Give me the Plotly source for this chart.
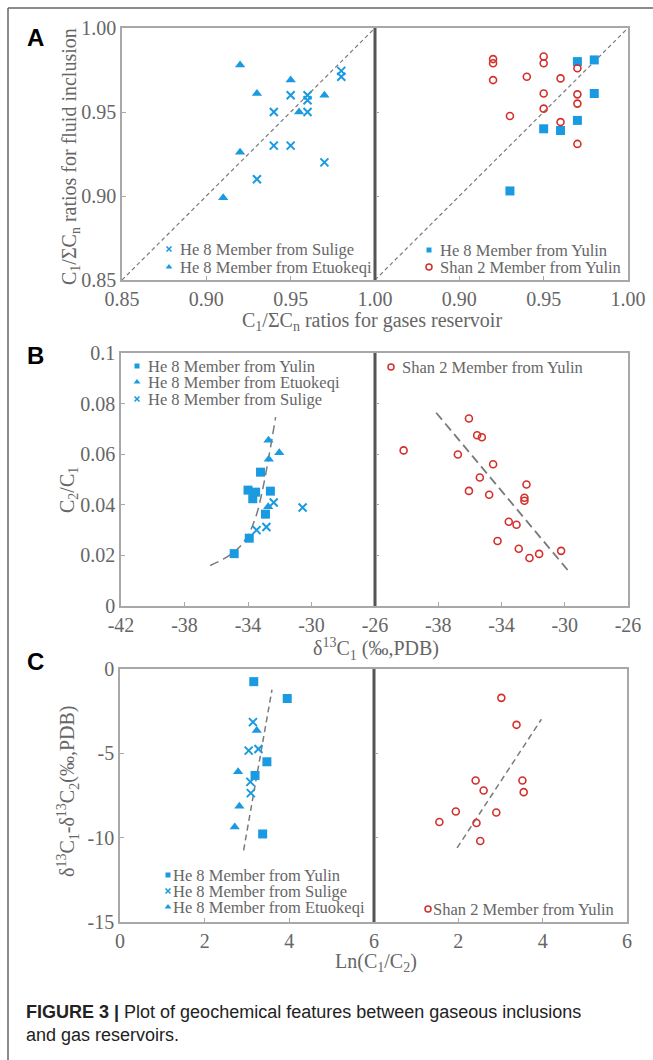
import plotly.graph_objects as go

# ---------------- data ----------------
# Panel A : C1/ΣCn gases reservoir (x) vs fluid inclusion (y)
a_sulige_x = [0.94, 0.95, 0.96, 0.96, 0.96, 0.98, 0.98, 0.94, 0.95, 0.97, 0.93]
a_sulige_y = [0.950, 0.960, 0.960, 0.957, 0.950, 0.9745, 0.971, 0.930, 0.930, 0.920, 0.910]
a_etuo_x = [0.92, 0.93, 0.95, 0.955, 0.97, 0.92, 0.91]
a_etuo_y = [0.978, 0.961, 0.969, 0.950, 0.960, 0.926, 0.899]
a_yulin_x = [0.97, 0.98, 0.98, 0.97, 0.95, 0.96, 0.93]
a_yulin_y = [0.980, 0.981, 0.961, 0.945, 0.940, 0.939, 0.903]
a_shan_x = [0.92, 0.92, 0.92, 0.95, 0.95, 0.94, 0.96, 0.97, 0.95, 0.97, 0.97, 0.95, 0.93, 0.96, 0.97]
a_shan_y = [0.9815, 0.979, 0.969, 0.983, 0.979, 0.971, 0.970, 0.976, 0.961, 0.9605, 0.955, 0.952, 0.9476, 0.944, 0.931]
a_diag = [0.85, 1.00]

# Panel B : δ13C1 vs C2/C1
b_yulin_x = [-34.87, -33.92, -34.0, -33.7, -33.52, -33.21, -32.59, -32.9]
b_yulin_y = [0.0207, 0.0268, 0.0458, 0.0424, 0.0450, 0.0529, 0.0454, 0.0363]
b_etuo_x = [-32.71, -32.69, -32.03, -32.73]
b_etuo_y = [0.0655, 0.058, 0.0606, 0.0392]
b_sulige_x = [-33.46, -32.84, -32.38, -30.56]
b_sulige_y = [0.030, 0.0312, 0.0409, 0.0389]
b_curve_x = [-36.38, -35.45, -34.62, -34.0, -33.48, -33.07, -32.71, -32.45, -32.26]
b_curve_y = [0.016, 0.0189, 0.0228, 0.0279, 0.0358, 0.0463, 0.0582, 0.0675, 0.0747]
b_shan_x = [-40.19, -36.06, -35.54, -35.24, -36.76, -34.53, -35.37, -36.06, -32.42, -34.78,
            -32.55, -32.55, -33.54, -33.05, -34.25, -32.91, -32.23, -31.62, -30.23]
b_shan_y = [0.0615, 0.0741, 0.0675, 0.0667, 0.0599, 0.056, 0.0508, 0.0455, 0.048, 0.044,
            0.0428, 0.0416, 0.0333, 0.0321, 0.0257, 0.0226, 0.019, 0.0206, 0.0218]
b_trend_x = [-38.13, -29.79]
b_trend_y = [0.0764, 0.014]

# Panel C : Ln(C1/C2) vs δ13C1-δ13C2
c_yulin_x = [3.16, 3.95, 3.47, 3.19, 3.37]
c_yulin_y = [-0.75, -1.75, -5.50, -6.31, -9.78]
c_sulige_x = [3.14, 3.04, 3.27, 3.08, 3.09]
c_sulige_y = [-3.15, -4.84, -4.74, -6.69, -7.36]
c_etuo_x = [3.23, 2.79, 2.82, 2.71]
c_etuo_y = [-3.65, -6.09, -8.13, -9.37]
c_trend1_x = [2.92, 3.59]
c_trend1_y = [-10.75, -1.23]
c_shan_x = [3.02, 3.38, 2.41, 2.60, 3.52, 3.55, 1.94, 2.90, 1.55, 2.43, 2.52]
c_shan_y = [-1.71, -3.31, -6.61, -7.20, -6.61, -7.30, -8.45, -8.51, -9.07, -9.13, -10.20]
c_trend2_x = [1.97, 3.97]
c_trend2_y = [-10.61, -2.98]

# tick labels
a_ticks = [0.85, 0.90, 0.95, 1.00]
a_ticktext = ["0.85", "0.90", "0.95", "1.00"]
b_xticks = [-42, -38, -34, -30, -26]
b_xticktext = ["-42", "-38", "-34", "-30", "-26"]
b_yticks = [0, 0.02, 0.04, 0.06, 0.08, 0.1]
b_yticktext = ["0", "0.02", "0.04", "0.06", "0.08", "0.1"]
c_xticks = [0, 2, 4, 6]
c_xticktext = ["0", "2", "4", "6"]
c_yticks = [-15, -10, -5, 0]
c_yticktext = ["-15", "-10", "-5", "0"]

# ---------------- styling ----------------
W, H = 653, 1060
BLUE = "#1a9ae0"
RED = "#d42f2a"
TXT = "#666666"
FRAME = "#a8a8a8"
DIV = "#555555"
DASH = "#7a7a7a"
SERIF = "Liberation Serif, Times New Roman, serif"
SANS = "Liberation Sans, Arial, sans-serif"


def px(x):
    return x / W


def py(y):
    return 1 - y / H


fig = go.Figure()

STY = {
    "yulin": dict(symbol="square", size=9, color=BLUE),
    "etuo": dict(symbol="triangle-up", size=9, color=BLUE),
    "sulige": dict(symbol="x-thin", size=8, color=BLUE, line=dict(width=2, color=BLUE)),
    "shan": dict(symbol="circle-open", size=7, color=RED, line=dict(width=1.6, color=RED)),
}


def pts(x, y, kind, xa, ya):
    fig.add_trace(go.Scatter(x=x, y=y, mode="markers", marker=STY[kind], xaxis=xa, yaxis=ya,
                             showlegend=False, hoverinfo="skip", cliponaxis=False))


def dline(x, y, xa, ya, shape="linear", dash="dash", w=1.5):
    fig.add_trace(go.Scatter(x=x, y=y, mode="lines", line=dict(color=DASH, width=w, dash=dash, shape=shape),
                             xaxis=xa, yaxis=ya, showlegend=False, hoverinfo="skip"))


# Panel A
dline(a_diag, a_diag, "x", "y", dash="4px,3px", w=1.2)
dline(a_diag, a_diag, "x2", "y2", dash="4px,3px", w=1.2)
pts(a_sulige_x, a_sulige_y, "sulige", "x", "y")
pts(a_etuo_x, a_etuo_y, "etuo", "x", "y")
pts(a_yulin_x, a_yulin_y, "yulin", "x2", "y2")
pts(a_shan_x, a_shan_y, "shan", "x2", "y2")
# Panel B
dline(b_curve_x, b_curve_y, "x3", "y3", shape="spline", dash="9px,5px")
pts(b_yulin_x, b_yulin_y, "yulin", "x3", "y3")
pts(b_etuo_x, b_etuo_y, "etuo", "x3", "y3")
pts(b_sulige_x, b_sulige_y, "sulige", "x3", "y3")
dline(b_trend_x, b_trend_y, "x4", "y4", dash="9px,5px", w=1.8)
pts(b_shan_x, b_shan_y, "shan", "x4", "y4")
# Panel C
dline(c_trend1_x, c_trend1_y, "x5", "y5", dash="6px,4px")
pts(c_yulin_x, c_yulin_y, "yulin", "x5", "y5")
pts(c_sulige_x, c_sulige_y, "sulige", "x5", "y5")
pts(c_etuo_x, c_etuo_y, "etuo", "x5", "y5")
dline(c_trend2_x, c_trend2_y, "x6", "y6", dash="6px,4px")
pts(c_shan_x, c_shan_y, "shan", "x6", "y6")

# ---------------- axes ----------------
def axis(domain, rng, tickvals, ticktext, anchor, labels=True):
    return dict(domain=domain, range=rng, anchor=anchor, showgrid=False, zeroline=False,
                showline=True, linecolor=FRAME, linewidth=1.5, mirror=True, automargin=False,
                ticks="inside", ticklen=4, tickwidth=1, tickcolor=FRAME,
                tickvals=tickvals, ticktext=ticktext, showticklabels=labels,
                tickfont=dict(family=SERIF, size=20, color=TXT), fixedrange=True)


panels = {
    # name: (xdomain px, ydomain px(top,bottom), xrange, yrange, xticks, xtext, yticks, ytext)
    "A": ((122, 375, 628), (28, 280), [0.85, 1.0], [0.85, 1.0], a_ticks, a_ticktext, a_ticks, a_ticktext),
    "B": ((121, 375, 628), (353, 606), [-42, -26], [0, 0.1], b_xticks, b_xticktext, b_yticks, b_yticktext),
    "C": ((120, 374, 627), (669, 922), [0, 6], [-15, 0], c_xticks, c_xticktext, c_yticks, c_yticktext),
}

layout_axes = {}
n = 1
for key, (xd, yd, xr, yr, xt, xtt, yt, ytt) in panels.items():
    ydom = [py(yd[1]), py(yd[0])]
    for side in (0, 1):
        xn = "" if n == 1 else str(n)
        xdom = [px(xd[side]), px(xd[side + 1])]
        xtv = xt if side == 0 else xt[1:]
        xtt2 = xtt if side == 0 else xtt[1:]
        layout_axes["xaxis" + xn] = axis(xdom, xr, xtv, xtt2, "y" + xn)
        layout_axes["yaxis" + xn] = axis(ydom, yr, yt, ytt, "x" + xn, labels=(side == 0))
        n += 1

# overlay pixel axis for legend keys
layout_axes["xaxis7"] = dict(domain=[0, 1], range=[0, W], visible=False, anchor="y7",
                             fixedrange=True, automargin=False)
layout_axes["yaxis7"] = dict(domain=[0, 1], range=[H, 0], visible=False, anchor="x7",
                             fixedrange=True, automargin=False)

fig.update_layout(**layout_axes)

# ---------------- legends (key marker + text) ----------------
legends = [
    # (key x, text x, y, kind, label)
    (169, 179, 249, "sulige", "He 8 Member from Sulige"),
    (169, 179, 267, "etuo", "He 8 Member from Etuokeqi"),
    (429, 439, 250, "yulin", "He 8 Member from Yulin"),
    (429, 439, 267, "shan", "Shan 2 Member from Yulin"),
    (137, 147, 366, "yulin", "He 8 Member from Yulin"),
    (137, 147, 382, "etuo", "He 8 Member from Etuokeqi"),
    (137, 147, 399, "sulige", "He 8 Member from Sulige"),
    (391, 401, 367, "shan", "Shan 2 Member from Yulin"),
    (168, 172, 875, "yulin", "He 8 Member from Yulin"),
    (168, 172, 891, "sulige", "He 8 Member from Sulige"),
    (168, 172, 907, "etuo", "He 8 Member from Etuokeqi"),
    (428, 432, 909, "shan", "Shan 2 Member from Yulin"),
]
KEY = {
    "yulin": dict(symbol="square", size=5, color=BLUE),
    "etuo": dict(symbol="triangle-up", size=6, color=BLUE),
    "sulige": dict(symbol="x-thin", size=5, color=BLUE, line=dict(width=1.6, color=BLUE)),
    "shan": dict(symbol="circle-open", size=6, color=RED, line=dict(width=1.5, color=RED)),
}
annotations = []
for kx, tx, ly, kind, label in legends:
    fig.add_trace(go.Scatter(x=[kx], y=[ly], mode="markers", marker=KEY[kind], xaxis="x7", yaxis="y7",
                             showlegend=False, hoverinfo="skip"))
    annotations.append(dict(x=px(tx), y=py(ly), xref="paper", yref="paper", text=label, showarrow=False,
                            xanchor="left", yanchor="middle", borderpad=0,
                            font=dict(family=SERIF, size=16.5, color=TXT)))

# axis titles
titles = [
    (372, 321, "C<sub>1</sub>/ΣC<sub>n</sub> ratios for gases reservoir", 0),
    (70, 157, "C<sub>1</sub>/ΣC<sub>n</sub> ratios for fluid inclusion", -90),
    (376, 649, "δ<sup>13</sup>C<sub>1</sub> (‰,PDB)", 0),
    (68, 490, "C<sub>2</sub>/C<sub>1</sub>", -90),
    (376, 962, "Ln(C<sub>1</sub>/C<sub>2</sub>)", 0),
    (68, 792, "δ<sup>13</sup>C<sub>1</sub>-δ<sup>13</sup>C<sub>2</sub>(‰,PDB)", -90),
]
for x, y, t, ang in titles:
    annotations.append(dict(x=px(x), y=py(y), xref="paper", yref="paper", text=t, showarrow=False,
                            xanchor="center", yanchor="middle", textangle=ang,
                            font=dict(family=SERIF, size=20, color=TXT)))

# panel letters
for letter, y in (("A", 37), ("B", 355), ("C", 661)):
    annotations.append(dict(x=px(35), y=py(y), xref="paper", yref="paper", text="<b>%s</b>" % letter,
                            showarrow=False, xanchor="center", yanchor="middle",
                            font=dict(family=SANS, size=24, color="#000000")))

# caption
annotations.append(dict(x=px(24), y=py(1012), xref="paper", yref="paper",
                        text="<b>FIGURE 3 |</b> Plot of geochemical features between gaseous inclusions",
                        showarrow=False, xanchor="left", yanchor="middle",
                        font=dict(family=SANS, size=18, color="#222222")))
annotations.append(dict(x=px(24), y=py(1035), xref="paper", yref="paper",
                        text="and gas reservoirs.", showarrow=False, xanchor="left", yanchor="middle",
                        font=dict(family=SANS, size=18, color="#222222")))

# shapes: outer frame and panel dividers
shapes = [
    dict(type="line", xref="paper", yref="paper", x0=px(8), x1=1, y0=py(8), y1=py(8),
         line=dict(color="#666666", width=1.5)),
    dict(type="line", xref="paper", yref="paper", x0=px(8), x1=px(8), y0=py(8), y1=0,
         line=dict(color="#666666", width=1.5)),
]
for key, (xd, yd, *_rest) in panels.items():
    shapes.append(dict(type="line", xref="paper", yref="paper", x0=px(xd[1]), x1=px(xd[1]),
                       y0=py(yd[1]), y1=py(yd[0]), line=dict(color=DIV, width=2), layer="above"))

fig.update_layout(
    width=W, height=H, margin=dict(l=0, r=0, t=0, b=0, pad=0, autoexpand=False),
    paper_bgcolor="white", plot_bgcolor="rgba(0,0,0,0)",
    showlegend=False, annotations=annotations, shapes=shapes,
)

fig.write_html("out.html", config={"displayModeBar": False},
               post_script="document.body.style.margin='0';document.body.style.overflow='hidden';")
